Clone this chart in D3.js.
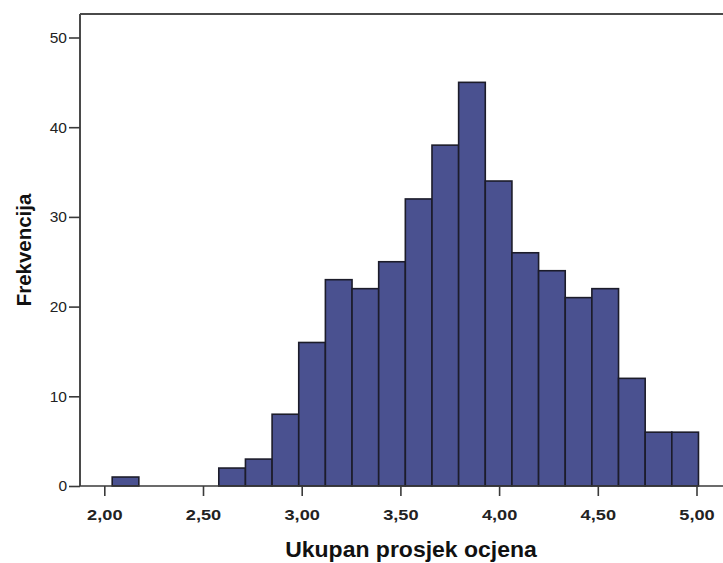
<!DOCTYPE html>
<html>
<head>
<meta charset="utf-8">
<script src="https://cdn.jsdelivr.net/npm/d3@7"></script>
<style>
  body { margin: 0; background: #fff; }
  svg { display: block; font-family: "Liberation Sans", Arial, sans-serif; }
</style>
</head>
<body>
<div id="chart"></div>
<script>
// bin edges (Ukupan prosjek ocjena) and counts per bin
var binEdges = [2.04, 2.175, 2.31, 2.445, 2.58, 2.715, 2.85, 2.985, 3.12, 3.255, 3.39,
                3.525, 3.66, 3.795, 3.93, 4.065, 4.20, 4.335, 4.47, 4.605, 4.74, 4.875, 5.01];
var counts = [1, 0, 0, 0, 2, 3, 8, 16, 23, 22, 25, 32, 38, 45, 34, 26, 24, 21, 22, 12, 6, 6];
var xTicks = [2, 2.5, 3, 3.5, 4, 4.5, 5];
var yTicks = [0, 10, 20, 30, 40, 50];

var W = 723, H = 563;
var frame = {left: 80, top: 14, right: 760, bottom: 486};

var svg = d3.select("#chart").append("svg")
    .attr("width", W)
    .attr("height", H);

var x = d3.scaleLinear()
    .domain([2, 5])
    .range([104.3, 696.5]);

var y = d3.scaleLinear()
    .domain([0, 50])
    .range([frame.bottom, frame.bottom - 448.5]);

var locale = d3.formatLocale({decimal: ",", thousands: ".", grouping: [3], currency: ["", ""]});
var fmt = locale.format(".2f");

var bins = counts.map(function(c, i) {
  return {x0: binEdges[i], x1: binEdges[i + 1], n: c};
});

// bars
svg.selectAll("rect.bar")
  .data(bins.filter(function(d) { return d.n > 0; }))
  .enter()
  .append("rect")
    .attr("class", "bar")
    .attr("x", function(d) { return x(d.x0); })
    .attr("y", function(d) { return y(d.n); })
    .attr("width", function(d) { return x(d.x1) - x(d.x0); })
    .attr("height", function(d) { return y(0) - y(d.n); })
    .style("fill", "#4a5190")
    .style("stroke", "#1c1c2a")
    .style("stroke-width", "1.6px");

// frame: top line (right side runs off the picture)
svg.append("line")
  .attr("x1", frame.left).attr("x2", frame.right)
  .attr("y1", frame.top).attr("y2", frame.top)
  .style("stroke", "#4a4a4a").style("stroke-width", "2px");

// Y axis
var yAxis = svg.append("g")
  .attr("transform", "translate(" + frame.left + ",0)")
  .call(d3.axisLeft(y).tickValues(yTicks).tickSize(11).tickSizeOuter(0).tickPadding(2));
yAxis.select(".domain")
  .attr("d", "M0," + frame.top + "V" + frame.bottom)
  .style("stroke", "#4a4a4a").style("stroke-width", "2px");
yAxis.selectAll(".tick line").style("stroke", "#3a3a3a").style("stroke-width", "1.6px");
yAxis.selectAll(".tick text")
  .style("font-size", "15.5px")
  .style("fill", "#222");

// X axis (labels are drawn a bit wider, like the original export)
var xAxis = svg.append("g")
  .attr("transform", "translate(0," + frame.bottom + ")")
  .call(d3.axisBottom(x).tickValues(xTicks).tickFormat(fmt).tickSize(10).tickSizeOuter(0).tickPadding(14));
xAxis.select(".domain")
  .attr("d", "M" + frame.left + ",0H" + frame.right)
  .style("stroke", "#3a3a3a").style("stroke-width", "1.6px");
xAxis.selectAll(".tick line").style("stroke", "#3a3a3a").style("stroke-width", "1.6px");
xAxis.selectAll(".tick text")
  .attr("transform", "scale(1.3,1)")
  .style("font-size", "14px")
  .style("font-weight", "bold")
  .style("fill", "#222");

// axis titles
svg.append("text")
  .attr("transform", "translate(411,557) scale(1.07,1)")
  .attr("text-anchor", "middle")
  .style("font-size", "21.5px")
  .style("font-weight", "bold")
  .style("fill", "#111")
  .text("Ukupan prosjek ocjena");

svg.append("text")
  .attr("transform", "translate(31,250) rotate(-90) scale(1.05,1)")
  .attr("text-anchor", "middle")
  .style("font-size", "19.5px")
  .style("font-weight", "bold")
  .style("fill", "#111")
  .text("Frekvencija");
</script>
</body>
</html>
